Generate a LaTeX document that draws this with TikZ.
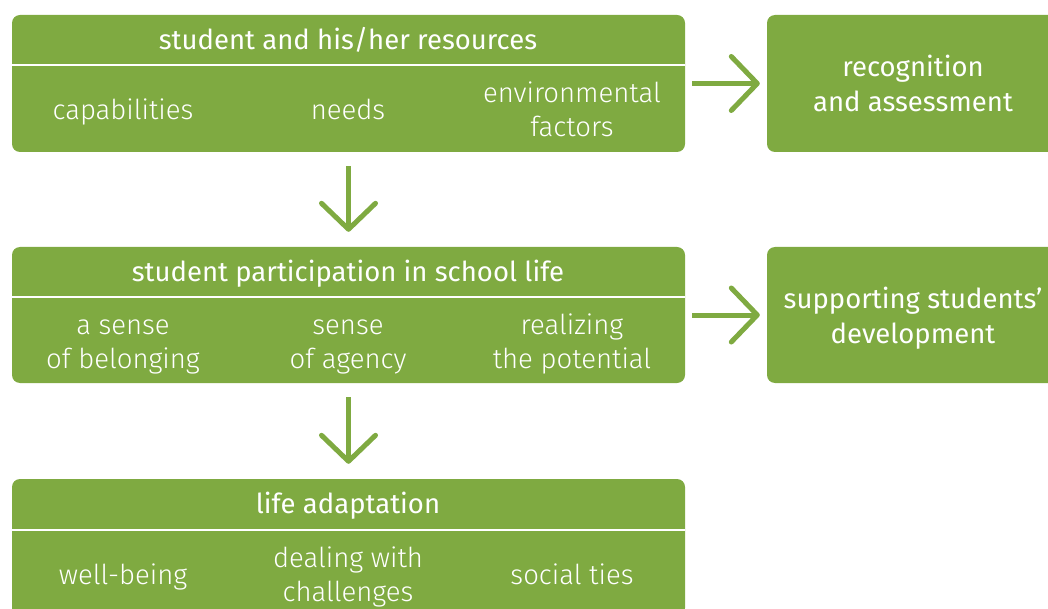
\documentclass[tikz,border=0pt]{standalone}
\usepackage{fontspec}
\setmainfont{Fira Sans}
\newfontfamily\lightfont{Fira Sans Light}
\usetikzlibrary{arrows.meta}
\definecolor{grn}{RGB}{127,170,65}
\tikzset{
  box/.style={fill=grn, rounded corners=8pt, inner sep=0pt},
  hdr/.style={text=white, anchor=base, align=center, font=\fontsize{27.5}{35}\selectfont, inner sep=0pt},
  itm/.style={text=white, anchor=base, align=center, font=\lightfont\fontsize{27.5}{34}\selectfont, inner sep=0pt},
  arr/.style={draw=grn, line width=5pt, -{Straight Barb[length=26pt,width=54pt,round]}},
  divider/.style={draw=white, line width=2pt}
}
\begin{document}
\begin{tikzpicture}[x=1pt,y=-1pt]
\useasboundingbox (0,0) rectangle (1048,609);
\clip (0,0) rectangle (1048,609);
% main boxes
\node[box, minimum width=673pt, minimum height=137pt] (b1) at (348.5,83.5) {};
\node[box, minimum width=673pt, minimum height=136pt] (b2) at (348.5,315) {};
\node[box, minimum width=673pt, minimum height=137pt] (b3) at (348.5,547.5) {};
% right boxes
\node[box, minimum width=292pt, minimum height=137pt] (r1) at (913,83.5) {};
\node[box, minimum width=292pt, minimum height=136pt] (r2) at (913,315) {};
% dividers
\draw[divider] (b1.west |- 0,65) -- (b1.east |- 0,65);
\draw[divider] (b2.west |- 0,297) -- (b2.east |- 0,297);
\draw[divider] (b3.west |- 0,530) -- (b3.east |- 0,530);
% headers
\node[hdr] (h1) at (348,49.3) {student and his/her resources};
\node[hdr] (h2) at (348,281) {student participation in school life};
\node[hdr] (h3) at (348,513) {life adaptation};
% items box 1
\node[itm] (i11) at (123,119.3) {capabilities};
\node[itm] (i12) at (348,119.3) {needs};
\node[itm] (i13) at (572,136.7) {environmental\\factors};
% items box 2
\node[itm] (i21) at (123,368.3) {a sense\\of belonging};
\node[itm] (i22) at (348,368.3) {sense\\of agency};
\node[itm] (i23) at (572,368.3) {realizing\\the potential};
% items box 3
\node[itm] (i31) at (123,584) {well-being};
\node[itm] (i32) at (348,601) {dealing with\\challenges};
\node[itm] (i33) at (572,584) {social ties};
% right box texts
\node[hdr] (t1) at (913,111.7) {recognition\\and assessment};
\node[hdr] (t2) at (913,343) {supporting students'\\development};
% arrows
\draw[arr, shorten <=7pt, shorten >=7pt] (b1.east) -- (r1.west);
\draw[arr, shorten <=7pt, shorten >=7pt] (b2.east) -- (r2.west);
\draw[arr, shorten <=14pt, shorten >=15pt] (b1.south) -- (b2.north);
\draw[arr, shorten <=14pt, shorten >=15pt] (b2.south) -- (b3.north);
\end{tikzpicture}
\end{document}
